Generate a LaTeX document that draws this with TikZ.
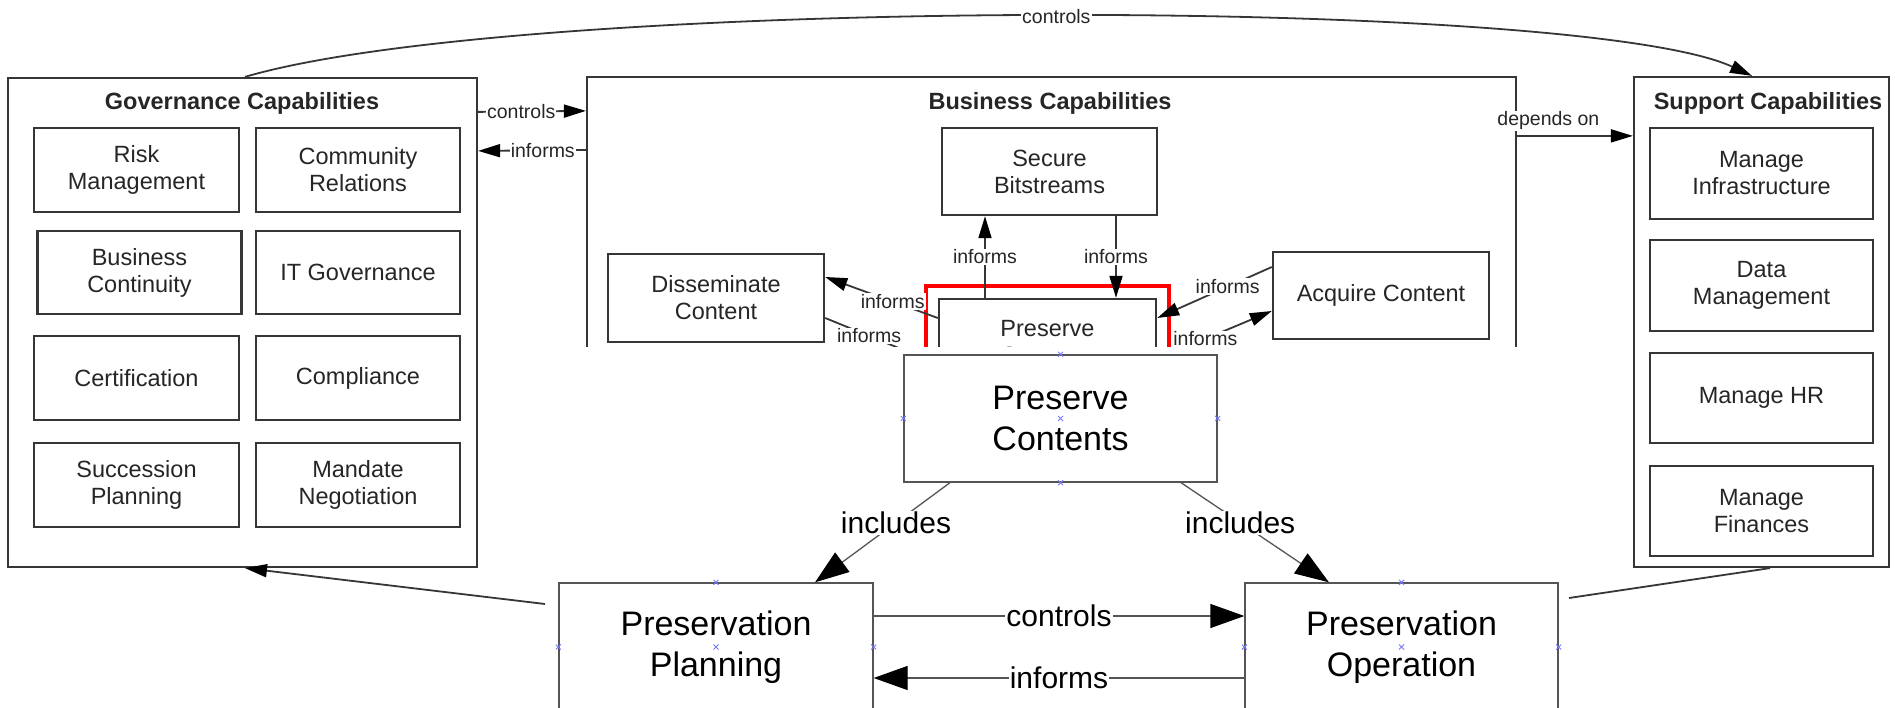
\documentclass[tikz,border=0pt]{standalone}
\usepackage{fontspec}
\setmainfont{Liberation Sans}
\usetikzlibrary{arrows.meta,fit}

\definecolor{bgink}{HTML}{262626}
\definecolor{bgedge}{HTML}{363636}
\definecolor{ovedge}{HTML}{555555}
\definecolor{anchormark}{HTML}{7878FF}
\definecolor{hilite}{HTML}{FF0000}

\tikzset{
  capframe/.style={draw=bgedge, line width=2.2pt, rectangle, inner sep=0pt},
  capitem/.style={draw=bgedge, line width=2.4pt, fill=white, rectangle, align=center,
    text=bgink, font=\fontsize{23.5}{27}\selectfont, inner sep=0pt},
  captitle/.style={font=\fontsize{23.5}{27}\selectfont\bfseries, text=bgink, inner sep=0pt},
  bglink/.style={draw=bgedge, line width=1.8pt, -{Triangle[length=22pt,width=13pt,color=black]}},
  bgplain/.style={draw=bgedge, line width=1.8pt},
  bglabel/.style={fill=white, inner sep=1pt, text=bgink, font=\fontsize{19.5}{22}\selectfont},
  ovbox/.style={draw=ovedge, line width=1.3pt, fill=white, align=center,
    font=\fontsize{34}{41.5}\selectfont, inner sep=0pt},
  ovlink/.style={draw=ovedge, line width=1.3pt, -{Triangle[length=34pt,width=24pt,color=black]}},
  ovlabel/.style={fill=white, inner sep=1pt, font=\fontsize{30}{34}\selectfont},
  anchormk/.style={draw=anchormark, line width=0.9pt},
  hilitebox/.style={draw=hilite, line width=4.5pt, inner sep=12pt},
}

% small blue cross marking a connection point
\newcommand\cpmark[1]{%
  \draw[anchormk] ([shift={(-2.5pt,-2.5pt)}]#1) -- ([shift={(2.5pt,2.5pt)}]#1)
                  ([shift={(-2.5pt,2.5pt)}]#1) -- ([shift={(2.5pt,-2.5pt)}]#1);}

\begin{document}
\begin{tikzpicture}[x=1pt,y=-1pt]
\useasboundingbox (0,0) rectangle (1895,708);
\clip (0,0) rectangle (1895,708);

% ---------------- Governance capabilities
\node[capframe, minimum width=469pt, minimum height=489pt] (gov) at (242.5,322.5) {};
\node[captitle] (govtitle) at (242,103.5) {Governance Capabilities};
\node[capitem, minimum width=205pt, minimum height=84pt] (risk) at (136.5,170) {Risk\\Management};
\node[capitem, minimum width=204pt, minimum height=84pt] (comm) at (358,170) {Community\\Relations};
\node[capitem, minimum width=204pt, minimum height=83pt] (bcont) at (139.5,272.5) {Business\\Continuity};
\node[capitem, minimum width=204pt, minimum height=83pt] (itgov) at (358,272.5) {IT Governance};
\node[capitem, minimum width=205pt, minimum height=84pt] (cert) at (136.5,378) {Certification};
\node[capitem, minimum width=204pt, minimum height=84pt] (compl) at (358,378) {Compliance};
\node[capitem, minimum width=205pt, minimum height=84pt] (succ) at (136.5,485) {Succession\\Planning};
\node[capitem, minimum width=204pt, minimum height=84pt] (mand) at (358,485) {Mandate\\Negotiation};

% ---------------- Support capabilities
\node[capframe, minimum width=255pt, minimum height=490pt] (sup) at (1761.5,322) {};
\node[captitle] (suptitle) at (1768,103.5) {Support Capabilities};
\node[capitem, minimum width=223pt, minimum height=91pt] (infra) at (1761.5,173.5) {Manage\\Infrastructure};
\node[capitem, minimum width=223pt, minimum height=91pt] (datam) at (1761.5,285.5) {Data\\Management};
\node[capitem, minimum width=223pt, minimum height=90pt] (hr) at (1761.5,398) {Manage HR};
\node[capitem, minimum width=223pt, minimum height=90pt] (fin) at (1761.5,511) {Manage\\Finances};

% ---------------- Business capabilities (lower part cut away)
\begin{scope}
  \clip (570,60) rectangle (1530,347);
  \node[capframe, minimum width=929pt, minimum height=490pt] (bus) at (1051.5,322) {};
  \node[captitle] (bustitle) at (1050,103.5) {Business Capabilities};
  \node[capitem, minimum width=215pt, minimum height=87pt] (sec) at (1049.5,171.5) {Secure\\Bitstreams};
  \node[capitem, minimum width=216pt, minimum height=88pt] (dis) at (716,298) {Disseminate\\Content};
  \node[capitem, minimum width=216pt, minimum height=87pt] (acq) at (1381,295.5) {Acquire Content};
  \node[capitem, minimum width=217pt, minimum height=86pt] (ps) at (1047.5,342) {Preserve\\Contents};
  \node[hilitebox, fit=(ps)] (focus) {};

  \draw[bglink] ([xshift=-62.5pt]ps.north) -- node[bglabel]{informs} ([xshift=-64.5pt]sec.south);
  \draw[bglink] ([xshift=66.5pt]sec.south) -- node[bglabel]{informs} ([xshift=68.5pt]ps.north);
  \draw[bglink] ([yshift=24pt]ps.west) -- node[bglabel, pos=0.4]{informs} ([yshift=21pt]dis.east);
  \draw[bglink] ([yshift=-20pt]dis.east) -- node[bglabel, pos=0.39]{informs} ([yshift=-22pt]ps.west);
  \draw[bglink] ([yshift=28.5pt]acq.west) -- node[bglabel, pos=0.385]{informs} ([yshift=24pt]ps.east);
  \draw[bglink] ([yshift=-17pt]ps.east) -- node[bglabel, pos=0.42]{informs} ([yshift=-15.5pt]acq.west);
\end{scope}

% ---------------- Links between the capability groups
\draw[bglink] ([xshift=2.5pt]gov.north) .. controls (520,-4) and (1580,-4) ..
  node[bglabel, pos=0.51]{controls} ([xshift=-9.5pt]sup.north);
\draw[bglink] ([yshift=-35pt]gov.north east) -- node[bglabel, pos=0.4]{controls} ([yshift=-35pt]bus.north west);
\draw[bglink] ([yshift=-74pt]bus.north west) -- node[bglabel, pos=0.4]{informs} ([yshift=-74pt]gov.north east);
\draw[bglink] ([yshift=-60pt]bus.north east) -- node[bglabel, pos=0.27, yshift=15pt]{depends on} ([yshift=-60pt]sup.north west);

% ---------------- Preservation detail
\node[ovbox, minimum width=313pt, minimum height=127pt] (pc) at (1060.5,418.5) {Preserve\\Contents};
\node[ovbox, minimum width=314pt, minimum height=128pt] (pp) at (716,647) {Preservation\\Planning};
\node[ovbox, minimum width=313pt, minimum height=128pt] (po) at (1401.5,647) {Preservation\\Operation};

\draw[ovlink] ([xshift=-110.5pt]pc.south) -- node[ovlabel, pos=0.4]{includes} ([xshift=99pt]pp.north);
\draw[ovlink] ([xshift=120.5pt]pc.south) -- node[ovlabel, pos=0.4]{includes} ([xshift=-72.5pt]po.north);
\draw[ovlink] ([yshift=31pt]pp.east) -- node[ovlabel]{controls} ([yshift=31pt]po.west);
\draw[ovlink] ([yshift=-31pt]po.west) -- node[ovlabel]{informs} ([yshift=-31pt]pp.east);

\coordinate (ppstub) at (545,604);
\coordinate (postub) at (1569,598);
\draw[bglink] (ppstub) -- ([xshift=2.5pt]gov.south);
\draw[bgplain] (postub) -- ([xshift=8.5pt]sup.south);

% connection points
\cpmark{pc.north}\cpmark{pc.west}\cpmark{pc.center}\cpmark{pc.east}\cpmark{pc.south}
\cpmark{pp.north}\cpmark{pp.west}\cpmark{pp.center}\cpmark{pp.east}
\cpmark{po.north}\cpmark{po.west}\cpmark{po.center}\cpmark{po.east}
\end{tikzpicture}
\end{document}
